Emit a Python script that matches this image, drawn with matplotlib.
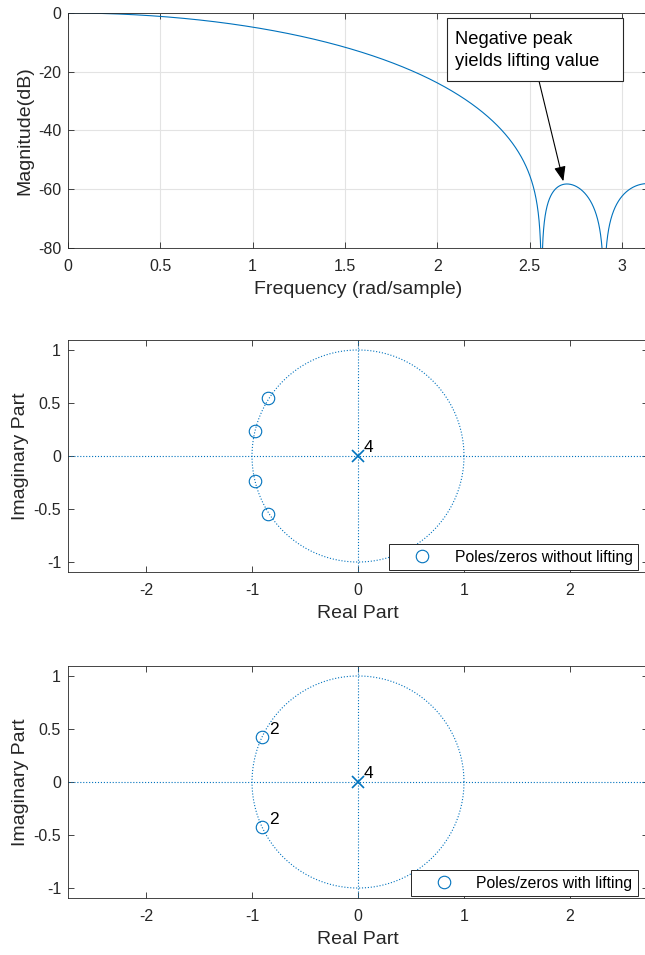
import numpy as np
import matplotlib
matplotlib.use("Agg")
import matplotlib.pyplot as plt
from matplotlib.patches import Rectangle

plt.rcParams["font.family"] = ["Liberation Sans", "DejaVu Sans"]
plt.rcParams["axes.unicode_minus"] = False

# zeros (upper half, conjugates added below)
zeros_plain = np.array([-0.846 + 0.550j, -0.975 + 0.236j])
zeros_lifted = np.array([-0.905 + 0.427j])
lifted_mult = 2
pole_mult = 4

freq_ticks = [0, 0.5, 1, 1.5, 2, 2.5, 3]
mag_ticks = [-80, -60, -40, -20, 0]
re_ticks = [-2, -1, 0, 1, 2]
im_ticks = [-1, -0.5, 0, 0.5, 1]
note_lines = ["Negative peak", "yields lifting value"]

BLUE = "#0072BD"
DARK = "#262626"
W, H = 645, 955


def ax_rect(top, bottom, left=68, right=648):
    return [left / W, 1 - bottom / H, (right - left) / W, (bottom - top) / H]


def style(ax):
    for s in ax.spines.values():
        s.set_color(DARK)
        s.set_linewidth(0.6)
    ax.tick_params(direction="in", length=4, width=0.6, colors=DARK,
                   labelsize=11.5, top=True, right=True)
    ax.tick_params(axis="x", pad=8)
    ax.tick_params(axis="y", pad=5)


fig = plt.figure(figsize=(W / 100, H / 100), dpi=100)

# --- magnitude response ---
ax1 = fig.add_axes(ax_rect(13, 248))
style(ax1)
all_z = np.concatenate([zeros_plain, zeros_plain.conj()])
all_z = all_z / np.abs(all_z)  # zeros sit on the unit circle
coef = np.real(np.poly(all_z))
w = np.sort(np.concatenate([np.linspace(0, np.pi, 4000), np.angle(zeros_plain)]))
resp = np.abs(np.polyval(coef, np.exp(1j * w)))
mag = 20 * np.log10(resp / resp[0] + 1e-12)
ax1.plot(w, mag, color=BLUE, lw=0.8)
ax1.set_xlim(0, np.pi)
ax1.set_ylim(-80, 0)
ax1.set_xticks(freq_ticks)
ax1.set_xticklabels(["0", "0.5", "1", "1.5", "2", "2.5", "3"])
ax1.set_yticks(mag_ticks)
ax1.grid(True, color="#e3e3e3", lw=0.8)
ax1.set_axisbelow(True)
ax1.set_xlabel("Frequency (rad/sample)", fontsize=14, color=DARK, labelpad=5)
ax1.set_ylabel("Magnitude(dB)", fontsize=14, color=DARK, labelpad=3)

# annotation: arrow + fixed-size text box (MATLAB textbox style)
ax1.annotate("", xy=(2.683, -57.3), xytext=(2.551, -23.1),
             arrowprops=dict(arrowstyle="-|>,head_length=0.9,head_width=0.35",
                             color="black", lw=0.8, shrinkA=0, shrinkB=0))
ax1.add_patch(Rectangle((2.053, -23.1), 0.953, 21.4, fc="white", ec=DARK,
                        lw=0.8, zorder=5))
for txt, yb in zip(note_lines, [-10.55, -18.05]):
    ax1.text(2.096, yb, txt, fontsize=13.2, va="baseline", ha="left",
             color="black", zorder=6)


def zplane(ax, zs, mult, label):
    style(ax)
    t = np.linspace(0, 2 * np.pi, 400)
    ax.plot(np.cos(t), np.sin(t), ls=":", color=BLUE, lw=0.8)
    ax.axhline(0, ls=":", color=BLUE, lw=0.8)
    ax.axvline(0, ls=":", color=BLUE, lw=0.8)
    pts = np.concatenate([zs, zs.conj()])
    ax.plot(pts.real, pts.imag, "o", mfc="none", mec=BLUE, ms=9, mew=0.8,
            label=label)
    ax.plot([0], [0], "x", color=BLUE, ms=9, mew=1.2)
    ax.annotate(str(pole_mult), (0, 0), xytext=(4, 3), textcoords="offset points",
                fontsize=12.5)
    if mult > 1:
        for p in pts:
            ax.annotate(str(mult), (p.real, p.imag), xytext=(5, 2),
                        textcoords="offset points", fontsize=12.5)
    ax.set_xlim(-2.736, 2.736)
    ax.set_ylim(-1.094, 1.094)
    ax.set_xticks(re_ticks)
    ax.set_yticks(im_ticks)
    ax.set_yticklabels(["-1", "-0.5", "0", "0.5", "1"])
    ax.set_xticklabels(["-2", "-1", "0", "1", "2"])
    ax.set_xlabel("Real Part", fontsize=14, color=DARK, labelpad=5)
    ax.set_ylabel("Imaginary Part", fontsize=14, color=DARK, labelpad=3)
    leg = ax.legend(loc="lower right", bbox_to_anchor=(570 / 580, 2 / 232),
                    fontsize=11.3, fancybox=False, framealpha=1, edgecolor=DARK,
                    borderaxespad=0, handlelength=3.5, handletextpad=0.3,
                    borderpad=0.35)
    leg.get_frame().set_linewidth(0.7)


ax2 = fig.add_axes(ax_rect(340, 572))
zplane(ax2, zeros_plain, 1, "Poles/zeros without lifting")

ax3 = fig.add_axes(ax_rect(666, 898))
zplane(ax3, zeros_lifted, lifted_mult, "Poles/zeros with lifting")

fig.savefig("out.png", dpi=100)
